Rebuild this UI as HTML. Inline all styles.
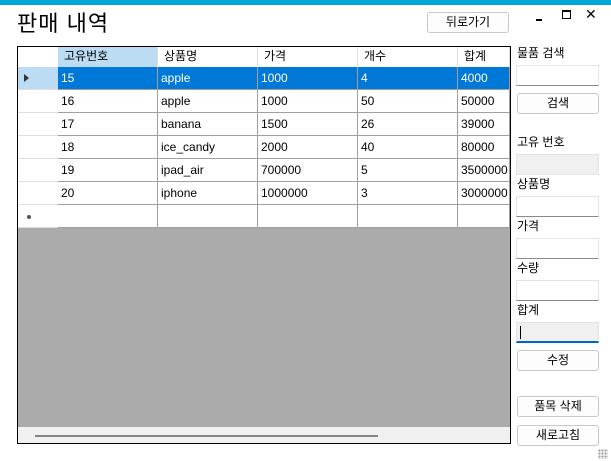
<!DOCTYPE html>
<html><head><meta charset="utf-8"><style>
*{margin:0;padding:0;box-sizing:border-box}
body{width:611px;height:461px;background:#fff;position:relative;overflow:hidden;font-family:"Liberation Sans","Noto Sans CJK KR",sans-serif;font-size:12px;color:#000}
.a{position:absolute}
.btn{position:absolute;background:#fdfdfd;border:1px solid #c8c8c8;border-radius:3px;text-align:center;font-size:12px;line-height:18px}
.tb{position:absolute;background:#fff;border:1px solid #e3e3e3;border-bottom:1px solid #8a8a8a;width:83px;height:21px}
.lbl{position:absolute;left:517px;font-size:12px}
.cell{position:absolute;height:23px;line-height:22px;padding-left:3px;border-right:1px solid #a0a0a0;border-bottom:1px solid #a0a0a0;white-space:nowrap;overflow:hidden}
</style></head><body>
<div class="a" style="left:0;top:0;width:611px;height:5px;background:#00a8d8"></div>
<div class="a" style="left:17px;top:6px;font-size:22px;letter-spacing:1px">판매 내역</div>
<div class="btn" style="left:427px;top:12px;width:82px;height:21px">뒤로가기</div>
<div class="a" style="left:536px;top:19px;width:6px;height:2px;background:#000"></div>
<div class="a" style="left:562px;top:10px;width:9px;height:9px;border:1px solid #000;border-top-width:2px"></div>
<div class="a" style="left:585px;top:6px;font-size:14px">✕</div>

<div class="a" style="left:17px;top:46px;width:494px;height:398px;border:1px solid #000;background:#ababab">
 <div class="a" style="left:0;top:0;width:492px;height:180px;background:#fff"></div>
 <div id="g"></div>
 <div class="a" style="left:0;top:380px;width:492px;height:16px;background:#f0f0f0">
  <div class="a" style="left:17px;top:8px;width:343px;height:2px;background:#858585"></div>
 </div>
</div>

<div class="lbl" style="top:44px">물품 검색</div>
<div class="tb" style="left:516px;top:65px"></div>
<div class="btn" style="left:517px;top:93px;width:82px;height:21px">검색</div>
<div class="lbl" style="top:133px">고유 번호</div>
<div class="tb" style="left:516px;top:154px;background:#f0f0f0;border-color:#e3e3e3"></div>
<div class="lbl" style="top:175px">상품명</div>
<div class="tb" style="left:516px;top:196px"></div>
<div class="lbl" style="top:217px">가격</div>
<div class="tb" style="left:516px;top:238px"></div>
<div class="lbl" style="top:259px">수량</div>
<div class="tb" style="left:516px;top:280px"></div>
<div class="lbl" style="top:301px">합계</div>
<div class="tb" style="left:516px;top:322px;background:#f0f0f0;border-bottom:2px solid #0067c0"><div class="a" style="left:3px;top:3px;width:1px;height:13px;background:#000"></div></div>
<div class="btn" style="left:517px;top:350px;width:82px;height:21px">수정</div>
<div class="btn" style="left:517px;top:396px;width:82px;height:21px">품목 삭제</div>
<div class="btn" style="left:517px;top:425px;width:82px;height:21px">새로고침</div>
<div class="a" style="left:598px;top:449px;width:10px;height:10px;background:radial-gradient(circle,#999 1px,transparent 1.2px) 0 0/3px 3px"></div>

<script>
const headers=["고유번호","상품명","가격","개수","합계"];
const rows=[["15","apple","1000","4","4000"],["16","apple","1000","50","50000"],["17","banana","1500","26","39000"],["18","ice_candy","2000","40","80000"],["19","ipad_air","700000","5","3500000"],["20","iphone","1000000","3","3000000"]];
const colX=[40,140,240,340,440],colW=[100,100,100,100,52];
const g=document.getElementById('g');
function mk(x,y,w,h,txt,style,name){const d=document.createElement('div');d.className='cell';


d.style.cssText+=`left:${x}px;top:${y}px;width:${w}px;height:${h}px;`+style;d.textContent=txt;g.appendChild(d);return d;}
mk(0,0,40,20,'','border-right:none;border-bottom:none;background:#fff','grid-corner');
headers.forEach((h,i)=>mk(colX[i],0,colW[i],20,h,'line-height:19px;padding-left:6px;border-right:1px solid #e0e0e0;border-bottom:none;background:'+(i==0?'#bcdcf4':'#fff'),'column-header'));
for(let r=0;r<=rows.length;r++){const y=20+r*23;
 const rh=mk(0,y,40,23,'','border-right:none;border-bottom:1px solid #e0e0e0;background:'+(r==0?'#bcdcf4':'#fff'),'row-header');
 if(r==0){rh.innerHTML='<span style="position:absolute;left:6px;top:7px;border-left:5px solid #333;border-top:4px solid transparent;border-bottom:4px solid transparent"></span>';}
 if(r==rows.length){rh.innerHTML='<span style="position:absolute;left:9px;top:10px;width:4px;height:4px;border-radius:2px;background:#555"></span>';}
 for(let c=0;c<5;c++){const sel=r==0;
  mk(colX[c],y,colW[c],23,r<rows.length?rows[r][c]:'',sel?'background:#0078d7;color:#fff;':'background:#fff','grid-cell');}
}
</script>
</body></html>
